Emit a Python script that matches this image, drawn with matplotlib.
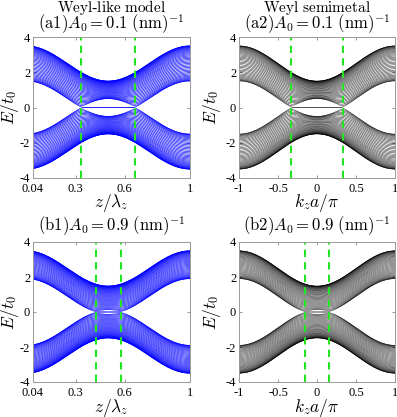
import numpy as np
import matplotlib

matplotlib.use("Agg")
import matplotlib.pyplot as plt

plt.rcParams["mathtext.fontset"] = "cm"
plt.rcParams["font.family"] = ["Liberation Serif", "DejaVu Serif"]
plt.rcParams["axes.unicode_minus"] = False

# values, one entry per row (a, b)
A0_values = [0.1, 0.9]
node_kz = [1 / 3, 0.155]          # Weyl node position in k_z a / pi
edge_E_outer = [3.5, 3.5]         # top of conduction band at k_z = +-pi
edge_E_inner = [1.5, 1.9]         # bottom of conduction band at k_z = +-pi
row_tags = ["a", "b"]
col_titles = [r"$\mathrm{Weyl}$-$\mathrm{like\ model}$", r"$\mathrm{Weyl\ semimetal}$"]

z_ticks = [0.04, 0.3, 0.6, 1]
z_tick_labels = ["0.04", "0.3", "0.6", "1"]
k_ticks = [-1, -0.5, 0, 0.5, 1]
k_tick_labels = ["-1", "-0.5", "0", "0.5", "1"]
E_ticks = [-4, -2, 0, 2, 4]
E_tick_labels = ["-4", "-2", "0", "2", "4"]

N_LAYERS = 40
kz = np.linspace(-1, 1, 481)


def slab_bands(E_out, E_in, k0, n=N_LAYERS):
    """Open slab of a two-band Weyl model, eigenvalues vs k_z."""
    B = (E_out - E_in) / 2
    m_edge = (E_out + E_in) / 2
    tz = (m_edge - B) / (1 + np.cos(np.pi * k0))
    M0 = m_edge - tz
    sz = np.array([[1, 0], [0, -1]], dtype=complex)
    sx = np.array([[0, 1], [1, 0]], dtype=complex)
    T = -(B / 2) * sz - 0.5j * B * sx
    hop = np.kron(np.eye(n, k=1), T) + np.kron(np.eye(n, k=-1), T.conj().T)
    m = M0 - tz * np.cos(np.pi * kz)
    H = m[:, None, None] * np.kron(np.eye(n), sz)[None] + hop[None]
    return np.linalg.eigvalsh(H)


W, Hf = 397, 417
fig = plt.figure(figsize=(W / 100, Hf / 100), dpi=100)


def ftext(x, y, s, va="baseline", **kw):
    fig.text(x / W, 1 - y / Hf, s, ha="center", va=va, **kw)


boxes = {  # pixel boxes (left, top, right, bottom)
    (0, 0): (33, 37, 190, 178), (0, 1): (239, 37, 395, 178),
    (1, 0): (33, 242, 190, 382), (1, 1): (239, 242, 395, 382),
}
title_y = [29, 231]
xlabel_y = [207, 412]
ylabel_x = [10, 212]

for r in range(2):
    E = slab_bands(edge_E_outer[r], edge_E_inner[r], node_kz[r])
    for c in range(2):
        l, t, rr, b = boxes[(r, c)]
        ax = fig.add_axes([l / W, 1 - b / Hf, (rr - l) / W, (b - t) / Hf])
        if c == 0:
            x = (kz + 1) / 2
            ax.plot(x, E, color="#0000ff", lw=0.45)
            for xn in [(1 - node_kz[r]) / 2, (1 + node_kz[r]) / 2]:
                ax.axvline(xn, color="#22e622", lw=1.5, ls=(0, (3.5, 2.5)))
            ax.set_xlim(0.04, 1)
            ax.set_xticks(z_ticks, z_tick_labels)
            xl = r"$z/\lambda_z$"
        else:
            ax.plot(kz, E, color="k", lw=0.3)
            for xn in [-node_kz[r], node_kz[r]]:
                ax.axvline(xn, color="#22e622", lw=1.5, ls=(0, (3.5, 2.5)))
            ax.set_xlim(-1, 1)
            ax.set_xticks(k_ticks, k_tick_labels)
            xl = r"$k_za/\pi$"
        ax.set_ylim(-4, 4)
        ax.set_yticks(E_ticks, E_tick_labels)
        ax.tick_params(direction="in", length=2.5, width=0.6, color="#888888",
                       labelsize=9, top=True, right=True,
                       labeltop=False, labelright=False)
        ax.tick_params(axis="x", pad=3.5)
        ax.tick_params(axis="y", pad=2)
        for s in ax.spines.values():
            s.set_color("#999999")
            s.set_linewidth(0.7)
        ftext((l + rr) / 2, xlabel_y[r], xl, fontsize=12.5)
        ftext(ylabel_x[c], (t + b) / 2, r"$E/t_0$", va="center", fontsize=12.5, rotation=90)
        ftext((l + rr) / 2, title_y[r], r"$\mathrm{(%s%d)}A_0 = %.1f\ \mathrm{(nm)}^{-1}$"
              % (row_tags[r], c + 1, A0_values[r]), fontsize=12)
        if r == 0:
            ftext((l + rr) / 2, 12, col_titles[c], fontsize=11)

fig.savefig("out.png", dpi=100, facecolor="white")
